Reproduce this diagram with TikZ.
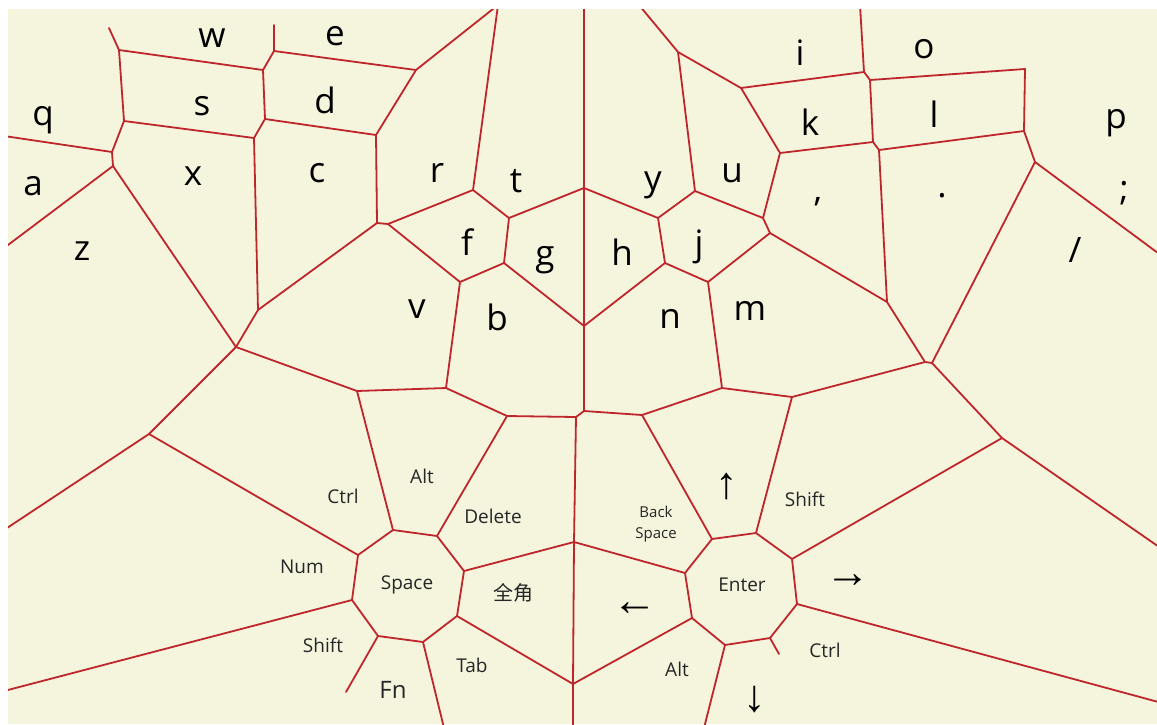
\documentclass[tikz,border=0pt]{standalone}
\usepackage{fontspec}
\setmainfont{Open Sans}
\newfontfamily\cjk{Noto Sans CJK SC}
\newfontfamily\arw{Liberation Sans}
\definecolor{cream}{RGB}{245,244,221}
\definecolor{vred}{RGB}{190,38,44}
\begin{document}
\begin{tikzpicture}[x=1pt,y=-1pt,
  edge/.style={draw=vred,line width=1.8pt,line cap=round,line join=round},
  ltr/.style={anchor=base,inner sep=0pt,font=\fontsize{35}{40}\selectfont,text=black},
  lbl/.style={anchor=base,inner sep=0pt,font=\fontsize{19}{22}\selectfont,text=black!85},
  sml/.style={inner sep=0pt,align=center,font=\fontsize{15}{21}\selectfont,text=black!85},
  arr/.style={inner sep=0pt,font=\arw\fontsize{45}{45}\selectfont,text=black}]
\fill[white] (0,0) rectangle (1157,724);
\fill[cream] (8,9) rectangle (1157,724);
\useasboundingbox (0,0) rectangle (1157,724);
% vertices
\coordinate (A1d) at (109,28);
\coordinate (A1) at (119,50);
\coordinate (B1) at (263,70);
\coordinate (C1) at (274,51);
\coordinate (C1d) at (274,25);
\coordinate (D1) at (416,70);
\coordinate (Ta) at (498,5);
\coordinate (E1) at (124,121);
\coordinate (F1) at (265,119);
\coordinate (G1) at (254,138);
\coordinate (H1) at (376,135);
\coordinate (I1) at (112,152);
\coordinate (J1) at (113,166);
\coordinate (Lq) at (4,136);
\coordinate (Lz) at (4,248);
\coordinate (K1) at (236,347);
\coordinate (L1) at (258,310);
\coordinate (M1) at (377,223);
\coordinate (N1) at (388,224);
\coordinate (O1) at (473,190);
\coordinate (P1) at (509,218);
\coordinate (Q1) at (584,188);
\coordinate (Tc) at (584,5);
\coordinate (R1) at (658,218);
\coordinate (S1) at (695,191);
\coordinate (T1) at (678,52);
\coordinate (Td) at (639,5);
\coordinate (U1) at (741,88);
\coordinate (V1) at (864,72);
\coordinate (Te) at (860,5);
\coordinate (W1) at (780,153);
\coordinate (X1) at (763,218);
\coordinate (Y1) at (770,233);
\coordinate (Z1) at (708,282);
\coordinate (A2) at (887,302);
\coordinate (B2) at (665,263);
\coordinate (C2) at (722,388);
\coordinate (D2) at (584,326);
\coordinate (E2) at (504,263);
\coordinate (F2) at (460,282);
\coordinate (G2) at (584,411);
\coordinate (H2) at (446,388);
\coordinate (I2) at (507,416);
\coordinate (J2) at (576,417);
\coordinate (K2) at (642,415);
\coordinate (L2) at (792,397);
\coordinate (M2) at (925,362);
\coordinate (N2) at (932,363);
\coordinate (O2) at (1035,162);
\coordinate (P2) at (1002,438);
\coordinate (Re1) at (1162,549);
\coordinate (Q2) at (792,559);
\coordinate (R2) at (756,533);
\coordinate (S2) at (1024,131);
\coordinate (T2) at (1025,69);
\coordinate (U2) at (870,80);
\coordinate (V2) at (873,142);
\coordinate (W2) at (879,150);
\coordinate (Re0) at (1162,256);
\coordinate (X2) at (357,391);
\coordinate (Y2) at (149,434);
\coordinate (Le) at (4,530);
\coordinate (Z2) at (358,555);
\coordinate (A3) at (393,530);
\coordinate (B3) at (352,600);
\coordinate (Lf) at (4,691);
\coordinate (C3) at (378,636);
\coordinate (C3d) at (346,692);
\coordinate (D3) at (437,536);
\coordinate (E3) at (464,571);
\coordinate (F3) at (457,616);
\coordinate (G3) at (423,642);
\coordinate (Ba) at (444,728);
\coordinate (H3) at (574,542);
\coordinate (I3) at (573,684);
\coordinate (Bb) at (573,728);
\coordinate (J3) at (685,573);
\coordinate (K3) at (712,539);
\coordinate (L3) at (797,604);
\coordinate (M3) at (770,638);
\coordinate (N3) at (725,645);
\coordinate (O3) at (692,618);
\coordinate (Bc) at (704,728);
\coordinate (M3d) at (779,654);
\coordinate (Re2) at (1162,703);
\begin{scope}
\clip (8,9) rectangle (1157,724);
\draw[edge] (A1d)--(A1)--(B1)--(C1)--(C1d);
\draw[edge] (C1)--(D1)--(Ta);
\draw[edge] (A1)--(E1)--(G1)--(F1)--(B1);
\draw[edge] (F1)--(H1)--(D1);
\draw[edge] (E1)--(I1)--(Lq);
\draw[edge] (I1)--(J1)--(Lz);
\draw[edge] (J1)--(K1)--(L1)--(G1);
\draw[edge] (L1)--(M1)--(H1);
\draw[edge] (M1)--(N1)--(O1)--(Ta);
\draw[edge] (O1)--(P1)--(Q1)--(Tc);
\draw[edge] (Q1)--(R1)--(S1)--(T1)--(Td);
\draw[edge] (T1)--(U1)--(V1)--(Te);
\draw[edge] (U1)--(W1)--(X1)--(S1);
\draw[edge] (X1)--(Y1)--(Z1)--(B2)--(R1);
\draw[edge] (Y1)--(A2)--(M2)--(N2)--(O2)--(Re0);
\draw[edge] (B2)--(D2)--(E2)--(P1);
\draw[edge] (E2)--(F2)--(N1);
\draw[edge] (Q1)--(D2)--(G2);
\draw[edge] (F2)--(H2)--(I2)--(J2)--(G2)--(K2)--(C2)--(Z1);
\draw[edge] (C2)--(L2)--(M2);
\draw[edge] (N2)--(P2)--(Re1);
\draw[edge] (P2)--(Q2)--(R2)--(L2);
\draw[edge] (O2)--(S2)--(T2)--(U2)--(V1);
\draw[edge] (U2)--(V2)--(W2)--(S2);
\draw[edge] (W1)--(V2);
\draw[edge] (W2)--(A2);
\draw[edge] (K1)--(X2)--(H2);
\draw[edge] (K1)--(Y2)--(Le);
\draw[edge] (Y2)--(Z2)--(A3)--(X2);
\draw[edge] (Z2)--(B3)--(Lf);
\draw[edge] (B3)--(C3)--(C3d);
\draw[edge] (A3)--(D3)--(E3)--(F3)--(G3)--(C3);
\draw[edge] (G3)--(Ba);
\draw[edge] (D3)--(I2);
\draw[edge] (E3)--(H3)--(I3)--(Bb);
\draw[edge] (J2)--(H3);
\draw[edge] (F3)--(I3);
\draw[edge] (H3)--(J3)--(K3)--(R2);
\draw[edge] (K3)--(K2);
\draw[edge] (Q2)--(L3)--(M3)--(N3)--(O3)--(J3);
\draw[edge] (O3)--(I3);
\draw[edge] (N3)--(Bc);
\draw[edge] (M3)--(M3d);
\draw[edge] (L3)--(Re2);
\end{scope}
% letters
\node[ltr] (kw) at (212,47) {w};
\node[ltr] (ke) at (335,45) {e};
\node[ltr] (kq) at (43,125) {q};
\node[ltr] (ks) at (202,115) {s};
\node[ltr] (kd) at (325,113) {d};
\node[ltr] (ka) at (33,195) {a};
\node[ltr] (kx) at (193,185) {x};
\node[ltr] (kc) at (317,182) {c};
\node[ltr] (kz) at (82,260) {z};
\node[ltr] (kr) at (437,182) {r};
\node[ltr] (kt) at (516,192) {t};
\node[ltr] (ky) at (653,190) {y};
\node[ltr] (ku) at (732,182) {u};
\node[ltr] (ki) at (800,65) {i};
\node[ltr] (ko) at (924,58) {o};
\node[ltr] (kk) at (810,135) {k};
\node[ltr] (kl) at (934,127) {l};
\node[ltr] (kp) at (1116,128) {p};
\node[ltr] (kf) at (467,255) {f};
\node[ltr] (kg) at (545,265) {g};
\node[ltr] (kh) at (622,265) {h};
\node[ltr] (kj) at (699,255) {j};
\node[ltr] (kv) at (417,318) {v};
\node[ltr] (kb) at (497,330) {b};
\node[ltr] (kn) at (670,328) {n};
\node[ltr] (km) at (750,320) {m};
\node[ltr] (kcomma) at (818,201) {,};
\node[ltr] (kdot) at (942,197) {.};
\node[ltr] (ksemi) at (1124,200) {;};
\node[ltr] (kslash) at (1075,262) {/};
% modifier keys
\node[lbl] (ctrlL) at (343,503) {Ctrl};
\node[lbl] (altT) at (422,483) {Alt};
\node[lbl] (num) at (302,573) {Num};
\node[lbl] (space) at (407,589) {Space};
\node[lbl] (shiftL) at (323,652) {Shift};
\node[lbl,font=\fontsize{24}{28}\selectfont] (fn) at (393,698) {Fn};
\node[lbl] (tab) at (472,672) {Tab};
\node[lbl] (del) at (493,523) {Delete};
\node[inner sep=0pt,font=\cjk\fontsize{20}{24}\selectfont,text=black!85] (zen) at (513,593) {全角};
\node[sml] (bs) at (656,524) {Back\\Space};
\node[arr] (left) at (635,609) {←};
\node[arr] (up) at (727,487) {↑};
\node[lbl] (enter) at (742,591) {Enter};
\node[lbl] (shiftR) at (805,506) {Shift};
\node[arr] (right) at (848,581) {→};
\node[lbl] (ctrlR) at (825,657) {Ctrl};
\node[lbl] (altB) at (677,676) {Alt};
\node[arr] (down) at (755,700) {↓};
\end{tikzpicture}
\end{document}
